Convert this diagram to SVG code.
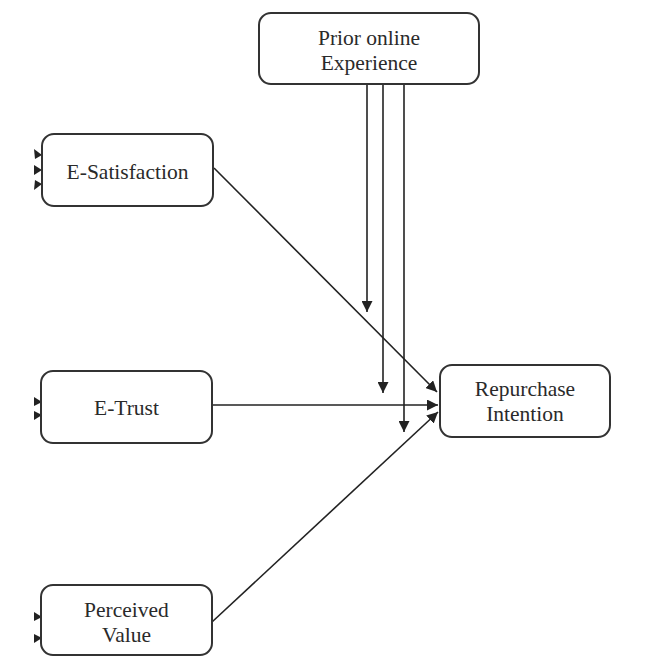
<svg xmlns="http://www.w3.org/2000/svg" width="649" height="656" viewBox="0 0 649 656">
<defs>
<style>
.box{fill:#fff;stroke:#333;stroke-width:2}
.lbl{font-family:"Liberation Serif","Times New Roman",serif;font-size:21.5px;fill:#2a2a2a;text-anchor:middle}
.ln{stroke:#222;stroke-width:1.6;fill:none}
.stub{fill:#222}
</style>
<marker id="ah" viewBox="0 0 10 10" refX="10" refY="5" markerWidth="11" markerHeight="11" markerUnits="userSpaceOnUse" orient="auto">
<path d="M0,0 L10,5 L0,10 z" fill="#222"/>
</marker>
</defs>
<rect width="649" height="656" fill="#fff"/>
<g id="connectors">
<line class="ln" x1="214" y1="168" x2="437" y2="392" marker-end="url(#ah)"/>
<line class="ln" x1="212" y1="405" x2="438" y2="405" marker-end="url(#ah)"/>
<line class="ln" x1="212" y1="622" x2="438" y2="412" marker-end="url(#ah)"/>
<line class="ln" x1="367" y1="85" x2="367" y2="312" marker-end="url(#ah)"/>
<line class="ln" x1="383" y1="85" x2="383" y2="393" marker-end="url(#ah)"/>
<line class="ln" x1="404" y1="85" x2="404" y2="432" marker-end="url(#ah)"/>
</g>
<g id="stubs">
<path class="stub" d="M34,149 L42,155 L35,159 z"/>
<path class="stub" d="M34,165 L42,170 L34,175 z"/>
<path class="stub" d="M35,180 L42,184 L34,190 z"/>
<path class="stub" d="M34,397 L42,402 L34,406 z"/>
<path class="stub" d="M34,411 L42,415 L34,420 z"/>
<path class="stub" d="M34,612 L42,617 L34,621 z"/>
<path class="stub" d="M34,634 L42,638 L34,643 z"/>
</g>
<g id="prior">
<rect class="box" x="259" y="13" width="220" height="71" rx="12"/>
<text class="lbl" x="369" y="45">Prior online</text>
<text class="lbl" x="369" y="70">Experience</text>
</g>
<g id="esat">
<rect class="box" x="42" y="134" width="171" height="72" rx="12"/>
<text class="lbl" x="127.5" y="179">E-Satisfaction</text>
</g>
<g id="etrust">
<rect class="box" x="41" y="371" width="171" height="72" rx="12"/>
<text class="lbl" x="126.5" y="415">E-Trust</text>
</g>
<g id="pvalue">
<rect class="box" x="41" y="585" width="171" height="70" rx="12"/>
<text class="lbl" x="126.5" y="617">Perceived</text>
<text class="lbl" x="126.5" y="642">Value</text>
</g>
<g id="repurchase">
<rect class="box" x="440" y="365" width="170" height="72" rx="12"/>
<text class="lbl" x="525" y="396">Repurchase</text>
<text class="lbl" x="525" y="421">Intention</text>
</g>
</svg>
